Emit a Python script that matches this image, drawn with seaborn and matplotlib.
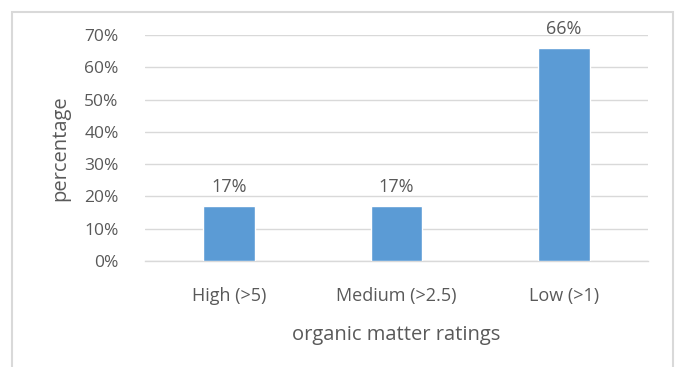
import matplotlib
matplotlib.use("Agg")
import matplotlib.pyplot as plt
from matplotlib.patches import Rectangle
from matplotlib.ticker import PercentFormatter
import seaborn as sns
import pandas as pd

categories = ["High (>5)", "Medium (>2.5)", "Low (>1)"]
percentages = [17, 17, 66]
y_ticks = [0, 10, 20, 30, 40, 50, 60, 70]

sns.set_theme(style="white")
plt.rcParams["font.family"] = ["Open Sans", "DejaVu Sans"]

text_color = "#595959"
bar_color = "#5b9bd5"
grid_color = "#d9d9d9"

df = pd.DataFrame({"rating": categories, "pct": percentages})

fig = plt.figure(figsize=(6.76, 3.67), dpi=100)
ax = fig.add_axes([0.2145, 0.2888, 0.7441, 0.6158])

sns.barplot(data=df, x="rating", y="pct", color=bar_color, width=0.31,
            saturation=1, ax=ax, zorder=3)

ax.set_ylim(0, 70)
ax.set_yticks(y_ticks)
ax.yaxis.set_major_formatter(PercentFormatter(decimals=0))
ax.set_xlim(-0.5, len(categories) - 0.5)
ax.grid(axis="y", color=grid_color, linewidth=1, zorder=0)
ax.set_axisbelow(True)
for side in ["top", "right", "left"]:
    ax.spines[side].set_visible(False)
ax.spines["bottom"].set_color(grid_color)
ax.spines["bottom"].set_linewidth(1)

ax.tick_params(axis="y", length=0, pad=19, labelsize=12.5, labelcolor=text_color)
ax.tick_params(axis="x", length=0, pad=19, labelsize=13, labelcolor=text_color)

for container in ax.containers:
    ax.bar_label(container, labels=[f"{v}%" for v in percentages], padding=7,
                 fontsize=13, color=text_color)

ax.set_xlabel("organic matter ratings", fontsize=14.5, color=text_color, labelpad=14)
ax.set_ylabel("percentage", fontsize=14.5, color=text_color, labelpad=10)

# outer chart border
fig.patches.append(Rectangle((12 / 676, -0.05), 661 / 676, 1 - 12 / 367 + 0.05,
                             transform=fig.transFigure, fill=False,
                             edgecolor=grid_color, linewidth=1.5))

fig.savefig("out.png", dpi=100)
